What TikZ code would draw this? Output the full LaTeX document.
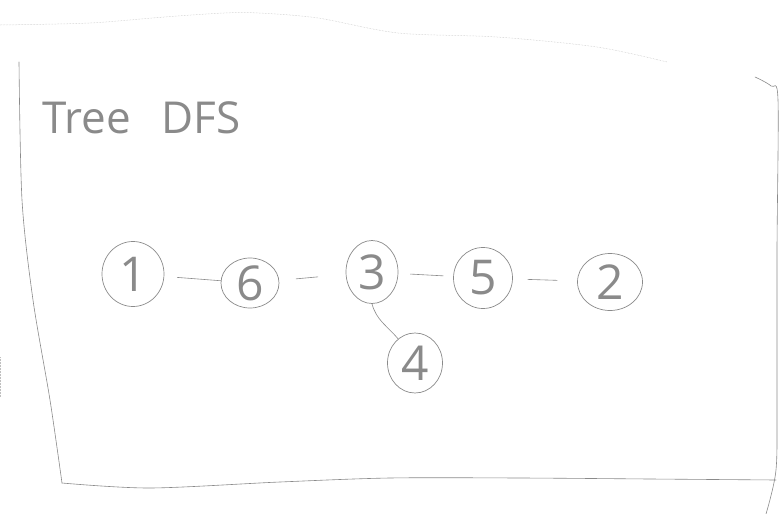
\documentclass[tikz,border=0pt]{standalone}
\usepackage{fontspec}
\setmainfont{Open Sans}
\usetikzlibrary{shapes.geometric}
\definecolor{pen}{HTML}{8A8A8A}
\begin{document}
\begin{tikzpicture}[x=1pt,y=-1pt,
  pencil/.style={draw=pen, line width=0.6pt, line cap=round, line join=round},
  faint/.style={draw=pen!55, line width=0.5pt, densely dotted},
  vert/.style={ellipse, draw=pen, line width=0.7pt, inner sep=0pt, text=pen,
    font=\fontsize{48}{52}\selectfont},
  edge/.style={draw=pen, line width=0.6pt, line cap=round}]
\useasboundingbox (0,0) rectangle (780,514);
% frame
\draw[faint] plot[smooth] coordinates {(0,25) (90,23) (164,17) (224,13) (259,13) (318,18) (398,33) (497,37) (597,47) (667,62)};
\draw[pencil] plot[smooth] coordinates {(19,62) (22,200) (33,300) (50,400) (62,483)};
\draw[pencil] plot[smooth] coordinates {(62,483) (150,488) (280,482) (390,478) (520,478) (650,479) (776,480)};
\draw[pencil] plot[smooth] coordinates {(755,77) (771,86) (778,100) (777,250) (777,400) (776,470) (766,514)};
\draw[faint] (0.5,357) -- (0.5,397);
% title
\node[anchor=base west, text=pen, inner sep=0pt, font=\fontsize{44}{48}\selectfont] (title) at (42,133) {Tree\hspace{0.7em}DFS};
% nodes
\node[vert, minimum width=62pt, minimum height=65pt] (n1) at (133,274) {1};
\node[vert, minimum width=58pt, minimum height=50pt] (n6) at (250,283) {6};
\node[vert, minimum width=52pt, minimum height=63pt] (n3) at (372,272) {3};
\node[vert, minimum width=59pt, minimum height=61pt] (n5) at (483,278) {5};
\node[vert, minimum width=65pt, minimum height=57pt] (n2) at (610,282) {2};
\node[vert, minimum width=55pt, minimum height=60pt] (n4) at (415,363) {4};
% connectors
\draw[edge, shorten <=13pt] (n1) -- (n6);
\draw[edge, shorten <=17pt, shorten >=28pt] (n6) -- (n3);
\draw[edge, shorten <=12pt, shorten >=10pt] (n3) -- (n5);
\draw[edge, shorten <=15pt, shorten >=20pt] (n5) -- (n2);
\draw[edge] (n3.south) to[out=-75, in=130] (n4.125);
\end{tikzpicture}
\end{document}
